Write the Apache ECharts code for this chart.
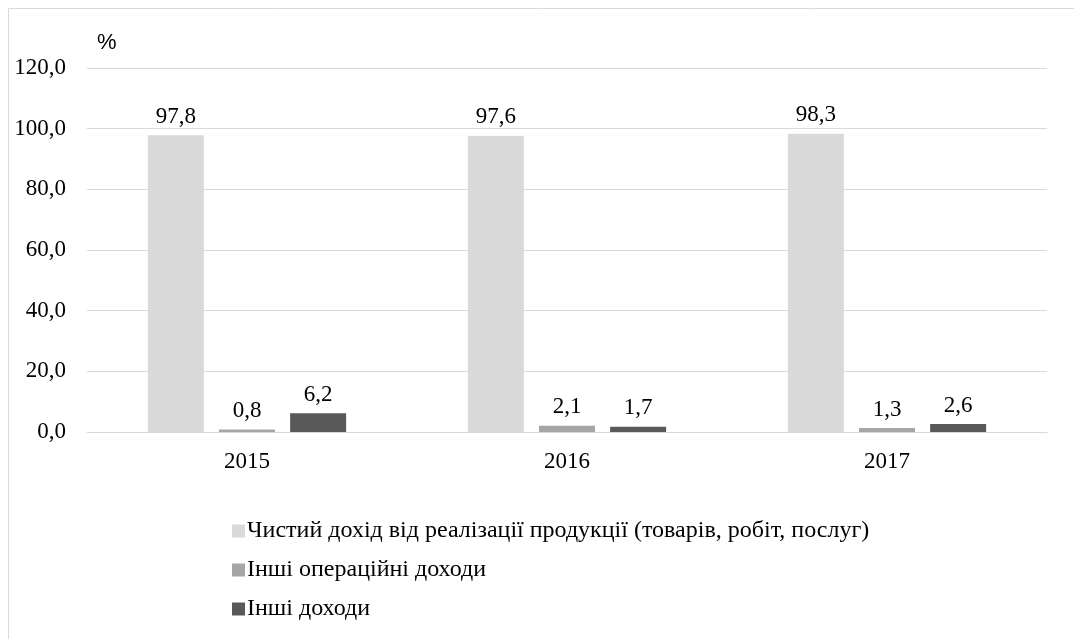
<!DOCTYPE html>
<html>
<head>
<meta charset="utf-8">
<script src="https://cdn.jsdelivr.net/npm/echarts@6/dist/echarts.min.js"></script>
<style>
  html, body { margin: 0; padding: 0; background: #fff; }
  #main { width: 1074px; height: 639px; }
</style>
</head>
<body>
<div id="main"></div>
<script>
var years = ['2015', '2016', '2017'];
var seriesNames = [
    'Чистий дохід від реалізації продукції (товарів, робіт, послуг)',
    'Інші операційні доходи',
    'Інші доходи'
];
var netIncome = [97.8, 97.6, 98.3];
var otherOperating = [0.8, 2.1, 1.3];
var otherIncome = [6.2, 1.7, 2.6];
var colors = ['#d9d9d9', '#a6a6a6', '#595959'];

var font = "'Times New Roman', 'Liberation Serif', 'DejaVu Serif', serif";
var fsize = 23;

function fmt(v) {
    return v.toFixed(1).replace('.', ',');
}

function makeSeries(name, data, color) {
    return {
        name: name,
        type: 'bar',
        data: data,
        barWidth: 56,
        barGap: '27%',
        barCategoryGap: '38%',
        itemStyle: { color: color },
        label: {
            show: true,
            position: 'top',
            distance: 7,
            color: '#000',
            fontFamily: font,
            fontSize: fsize,
            formatter: function (p) { return fmt(p.value); }
        }
    };
}

var myChart = echarts.init(document.getElementById('main'));
myChart.setOption({
    animation: false,
    backgroundColor: '#fff',
    textStyle: { fontFamily: font },
    grid: { left: 87, right: 27, top: 68, bottom: 207 },
    legend: {
        orient: 'vertical',
        left: 227,
        top: 514,
        itemWidth: 13,
        itemHeight: 13,
        itemGap: 15,
        icon: 'rect',
        data: seriesNames,
        textStyle: { fontFamily: font, fontSize: 24, color: '#000', padding: [0, 0, 0, -3] }
    },
    xAxis: {
        type: 'category',
        data: years,
        axisLine: { lineStyle: { color: '#d9d9d9', width: 1 } },
        axisTick: { show: false },
        axisLabel: { color: '#000', fontFamily: font, fontSize: fsize, margin: 18 }
    },
    yAxis: {
        type: 'value',
        min: 0,
        max: 120,
        interval: 20,
        name: '%',
        nameLocation: 'end',
        nameGap: 14,
        nameTextStyle: { color: '#000', fontFamily: 'Liberation Sans', fontSize: 22, align: 'left', padding: [0, 0, 0, 10] },
        axisLine: { show: false },
        axisTick: { show: false },
        splitLine: { lineStyle: { color: '#d9d9d9', width: 1 } },
        axisLabel: {
            color: '#000', fontFamily: font, fontSize: fsize, margin: 21,
            formatter: function (v) { return fmt(v); }
        }
    },
    graphic: [{
        type: 'rect',
        shape: { x: 8.5, y: 8.5, width: 1080, height: 640 },
        style: { fill: 'none', stroke: '#d9d9d9', lineWidth: 1 },
        silent: true
    }],
    series: [
        makeSeries(seriesNames[0], netIncome, colors[0]),
        makeSeries(seriesNames[1], otherOperating, colors[1]),
        makeSeries(seriesNames[2], otherIncome, colors[2])
    ]
});
</script>
</body>
</html>
